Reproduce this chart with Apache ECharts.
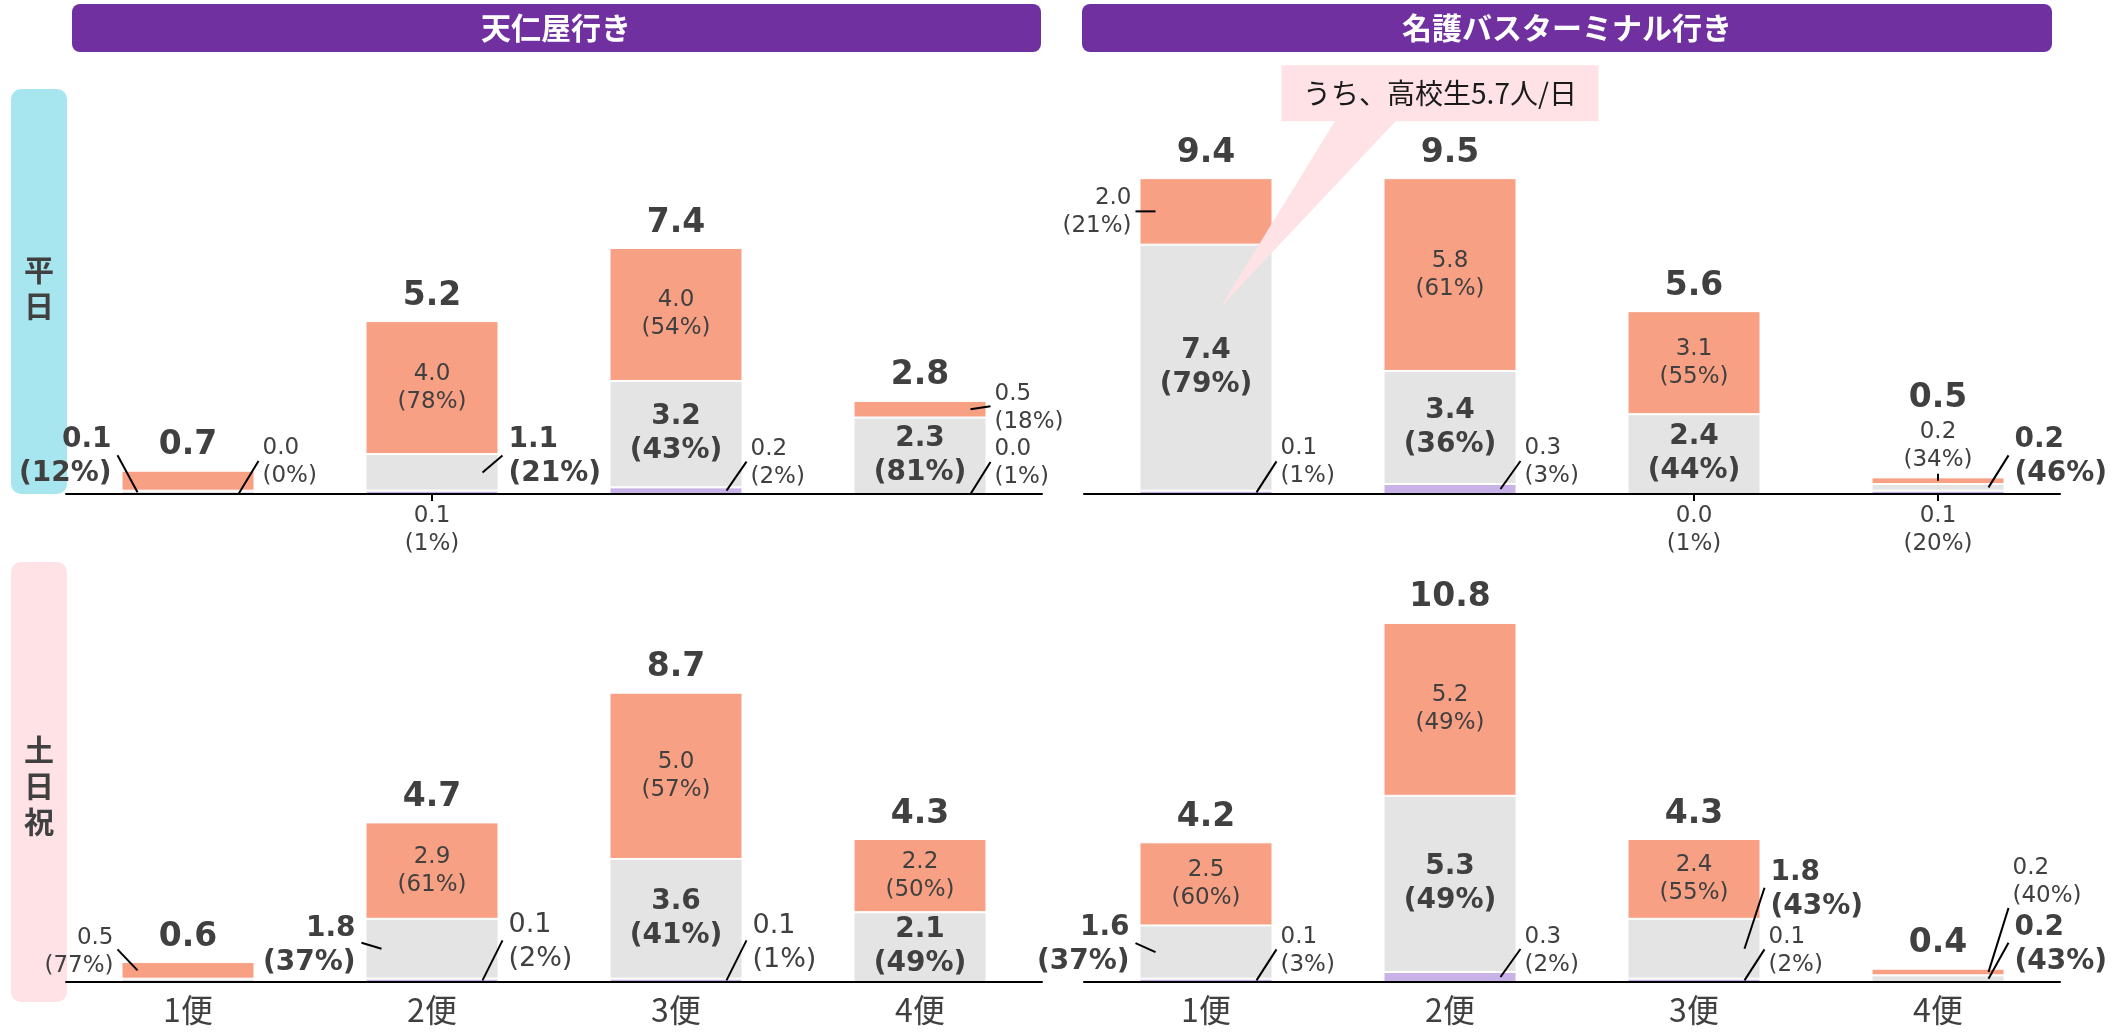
<!DOCTYPE html>
<html>
<head>
<meta charset="utf-8">
<script src="https://cdn.jsdelivr.net/npm/echarts@6/dist/echarts.min.js"></script>
<style>
  html, body { margin: 0; padding: 0; background: #fff; }
  #chart { width: 2125px; height: 1032px; }
</style>
</head>
<body>
<div id="chart"></div>
<script>
const categories = ['1便', '2便', '3便', '4便'];

// 天仁屋行き・平日 (下から 紫 / 灰 / サーモン)
const tenWeekdayPurple = [0.0, 0.1, 0.2, 0.0];
const tenWeekdayGray = [0.1, 1.1, 3.2, 2.3];
const tenWeekdaySalmon = [0.6, 4.0, 4.0, 0.5];
const tenWeekdayTotal = [0.7, 5.2, 7.4, 2.8];
const tenWeekdayPurplePct = [0, 1, 2, 1];
const tenWeekdayGrayPct = [12, 21, 43, 81];
const tenWeekdaySalmonPct = [88, 78, 54, 18];

// 名護バスターミナル行き・平日
const nagoWeekdayPurple = [0.1, 0.3, 0.0, 0.1];
const nagoWeekdayGray = [7.4, 3.4, 2.4, 0.2];
const nagoWeekdaySalmon = [2.0, 5.8, 3.1, 0.2];
const nagoWeekdayTotal = [9.4, 9.5, 5.6, 0.5];
const nagoWeekdayPurplePct = [1, 3, 1, 20];
const nagoWeekdayGrayPct = [79, 36, 44, 46];
const nagoWeekdaySalmonPct = [21, 61, 55, 34];

// 天仁屋行き・土日祝
const tenHolidayPurple = [0.0, 0.1, 0.1, 0.0];
const tenHolidayGray = [0.1, 1.8, 3.6, 2.1];
const tenHolidaySalmon = [0.5, 2.9, 5.0, 2.2];
const tenHolidayTotal = [0.6, 4.7, 8.7, 4.3];
const tenHolidayPurplePct = [0, 2, 1, 0];
const tenHolidayGrayPct = [23, 37, 41, 49];
const tenHolidaySalmonPct = [77, 61, 57, 50];

// 名護バスターミナル行き・土日祝
const nagoHolidayPurple = [0.1, 0.3, 0.1, 0.0];
const nagoHolidayGray = [1.6, 5.3, 1.8, 0.2];
const nagoHolidaySalmon = [2.5, 5.2, 2.4, 0.2];
const nagoHolidayTotal = [4.2, 10.8, 4.3, 0.4];
const nagoHolidayPurplePct = [3, 2, 2, 17];
const nagoHolidayGrayPct = [37, 49, 43, 43];
const nagoHolidaySalmonPct = [60, 49, 55, 40];

const calloutText = 'うち、高校生5.7人/日';

// ラベルの置き方 'in'=棒の中, R/L=引き出し線で右/左, B=軸の下, T=棒の上, null=なし
// ly: 引き出し線の先 (px), ty: 文字の上下補正 (px)
const tenWeekdayLabels = [
  { p: { side: 'R', ly: -33 }, g: { side: 'L', ly: -37 }, s: null },
  { p: { side: 'B' }, g: { side: 'R', ly: -17 }, s: 'in' },
  { p: { side: 'R', ly: -29 }, g: 'in', s: 'in' },
  { p: { side: 'R', ly: -32 }, g: 'in', s: { side: 'R', ly: -3, ty: 2 } }
];
const nagoWeekdayLabels = [
  { p: { side: 'R', ly: -31 }, g: 'in', s: { side: 'L', ly: 0 } },
  { p: { side: 'R', ly: -28 }, g: 'in', s: 'in' },
  { p: { side: 'B' }, g: 'in', s: 'in' },
  { p: { side: 'B' }, g: { side: 'R', ly: -32 }, s: { side: 'T' }, totDy: -79 }
];
const tenHolidayLabels = [
  { p: null, g: null, s: { side: 'L', ly: -21, ty: 3 } },
  { p: { side: 'R', ly: -40, ty: 2, big: true }, g: { side: 'L', ly: -6, ty: 3 }, s: 'in' },
  { p: { side: 'R', ly: -40, ty: 3, big: true }, g: 'in', s: 'in' },
  { p: null, g: 'in', s: 'in' }
];
const nagoHolidayLabels = [
  { p: { side: 'R', ly: -31, ty: 2 }, g: { side: 'L', ly: -9, ty: 2 }, s: 'in' },
  { p: { side: 'R', ly: -28, ty: 2 }, g: 'in', s: 'in' },
  { p: { side: 'R', ly: -31, ty: 2 }, g: { side: 'R', ly: -61, ty: 2 }, s: 'in' },
  { p: null, g: { side: 'R', ly: -36, ty: 2 }, s: { side: 'R', ly: -64, ty: -26 } }
];

const BAR_W = 133;
const NUM_FONT = '"DejaVu Sans", "Noto Sans CJK JP", sans-serif';
const JP_FONT = '"Noto Sans CJK JP", sans-serif';
const TEXT_COLOR = '#404040';
const COLORS = { p: '#C8B2E8', g: '#E4E4E4', s: '#F8A084' };
const TOTAL_STYLE = { fontSize: 33, fontWeight: 'bold', lineHeight: 40 };
const BOLD_STYLE = { fontSize: 28, fontWeight: 'bold', lineHeight: 34 };
const SMALL_STYLE = { fontSize: 23, fontWeight: 'normal', lineHeight: 28 };
const BIG_STYLE = { fontSize: 27, fontWeight: 'normal', lineHeight: 34 };

const grids = [
  { left: 66, top: 95, width: 976, height: 399 },
  { left: 1084, top: 95, width: 976, height: 399 },
  { left: 66, top: 583, width: 976, height: 399 },
  { left: 1084, top: 583, width: 976, height: 399 }
];

const panels = [
  { purple: tenWeekdayPurple, gray: tenWeekdayGray, salmon: tenWeekdaySalmon, total: tenWeekdayTotal,
    pp: tenWeekdayPurplePct, gp: tenWeekdayGrayPct, sp: tenWeekdaySalmonPct, layout: tenWeekdayLabels },
  { purple: nagoWeekdayPurple, gray: nagoWeekdayGray, salmon: nagoWeekdaySalmon, total: nagoWeekdayTotal,
    pp: nagoWeekdayPurplePct, gp: nagoWeekdayGrayPct, sp: nagoWeekdaySalmonPct, layout: nagoWeekdayLabels,
    callout: { tipCat: 0, tipValue: 5.6, tipDx: 14, boxCat: 1, boxValue: 12.05, boxDx: -10 } },
  { purple: tenHolidayPurple, gray: tenHolidayGray, salmon: tenHolidaySalmon, total: tenHolidayTotal,
    pp: tenHolidayPurplePct, gp: tenHolidayGrayPct, sp: tenHolidaySalmonPct, layout: tenHolidayLabels },
  { purple: nagoHolidayPurple, gray: nagoHolidayGray, salmon: nagoHolidaySalmon, total: nagoHolidayTotal,
    pp: nagoHolidayPurplePct, gp: nagoHolidayGrayPct, sp: nagoHolidaySalmonPct, layout: nagoHolidayLabels }
];

function txt(str, x, y, align, vAlign, st, fill) {
  return {
    type: 'text', x: x, y: y,
    style: {
      text: str, fill: fill || TEXT_COLOR, fontFamily: NUM_FONT,
      fontSize: st.fontSize, fontWeight: st.fontWeight, lineHeight: st.lineHeight,
      align: align, verticalAlign: vAlign, textAlign: align, textVerticalAlign: vAlign
    }
  };
}

function lead(x1, y1, x2, y2) {
  return { type: 'line', shape: { x1: x1, y1: y1, x2: x2, y2: y2 }, style: { stroke: '#000', lineWidth: 2 } };
}

function makeRenderer(pn) {
  return function (params, api) {
    const i = api.value(0);
    const lay = pn.layout[i];
    const vals = { p: pn.purple[i], g: pn.gray[i], s: pn.salmon[i] };
    const pcts = { p: pn.pp[i], g: pn.gp[i], s: pn.sp[i] };
    const bases = { p: 0, g: vals.p, s: vals.p + vals.g };
    const origin = api.coord([i, 0]);
    const cx = origin[0];
    const axisY = origin[1];
    const kids = [];

    // 合計
    const topY = api.coord([i, vals.p + vals.g + vals.s])[1];
    kids.push(txt(pn.total[i].toFixed(1), cx, topY + (lay.totDy || -25), 'center', 'middle', TOTAL_STYLE));

    ['p', 'g', 's'].forEach(function (key) {
      const spec = lay[key];
      if (!spec || spec === 'in') return;
      const st = key === 'g' ? BOLD_STYLE : (spec.big ? BIG_STYLE : SMALL_STYLE);
      const str = vals[key].toFixed(1) + '\n(' + pcts[key] + '%)';
      const ay = api.coord([i, bases[key] + vals[key] / 2])[1];
      if (spec.side === 'B') {
        kids.push(lead(cx, axisY, cx, axisY + 7));
        kids.push(txt(str, cx, axisY + 8, 'center', 'top', st));
      } else if (spec.side === 'T') {
        kids.push(lead(cx, ay, cx, ay - 7));
        kids.push(txt(str, cx, ay - 7, 'center', 'bottom', st));
      } else {
        const dir = spec.side === 'R' ? 1 : -1;
        const edge = cx + dir * BAR_W / 2;
        const ey = ay + spec.ly;
        const gap = st === SMALL_STYLE ? 8 : 10;
        kids.push(lead(edge - dir * 16, ay, edge + dir * 4, ey));
        kids.push(txt(str, edge + dir * gap, ey + (spec.ty === undefined ? 1 : spec.ty),
          dir > 0 ? 'left' : 'right', 'middle', st));
      }
    });

    // 吹き出し
    const co = pn.callout;
    if (co && i === co.tipCat) {
      const tip = api.coord([co.tipCat, co.tipValue]);
      const bc = api.coord([co.boxCat, co.boxValue]);
      const bw = 317, bh = 56;
      const bx = bc[0] + co.boxDx - bw / 2;
      const by = bc[1] - bh / 2;
      kids.push({ type: 'polygon', shape: { points: [[bx + 54, by + bh - 1], [bx + 115, by + bh - 1], [tip[0] + co.tipDx, tip[1]]] },
        style: { fill: '#FFE2E5' } });
      kids.push({ type: 'rect', shape: { x: bx, y: by, width: bw, height: bh }, style: { fill: '#FFE2E5' } });
      kids.push({ type: 'text', x: bx + bw / 2, y: by + bh / 2,
        style: { text: calloutText, fill: '#1a1a1a', fontFamily: JP_FONT, fontSize: 28,
          align: 'center', verticalAlign: 'middle', textAlign: 'center', textVerticalAlign: 'middle' } });
    }
    return { type: 'group', children: kids };
  };
}

const series = [];
panels.forEach(function (pn, k) {
  [['p', pn.purple, pn.pp], ['g', pn.gray, pn.gp], ['s', pn.salmon, pn.sp]].forEach(function (seg) {
    const key = seg[0];
    const pcts = seg[2];
    const st = key === 'g' ? BOLD_STYLE : SMALL_STYLE;
    series.push({
      type: 'bar',
      xAxisIndex: k,
      yAxisIndex: k,
      stack: 'st' + k,
      barWidth: BAR_W,
      silent: true,
      data: seg[1].map(function (v, i) {
        return { value: v, label: { show: pn.layout[i][key] === 'in' } };
      }),
      itemStyle: { color: COLORS[key], borderColor: '#fff', borderWidth: 1 },
      label: {
        position: 'inside',
        formatter: function (p) { return p.value.toFixed(1) + '\n(' + pcts[p.dataIndex] + '%)'; },
        color: TEXT_COLOR,
        fontFamily: NUM_FONT,
        fontSize: st.fontSize,
        fontWeight: st.fontWeight,
        lineHeight: st.lineHeight,
        align: 'center'
      }
    });
  });
  series.push({
    type: 'custom',
    xAxisIndex: k,
    yAxisIndex: k,
    z: 10,
    silent: true,
    clip: false,
    data: categories.map(function (c, i) { return [i, pn.total[i]]; }),
    renderItem: makeRenderer(pn)
  });
});

const headerStyle = { fill: '#fff', fontFamily: JP_FONT, fontSize: 30, fontWeight: 'bold',
  align: 'center', verticalAlign: 'middle', textAlign: 'center', textVerticalAlign: 'middle' };
const rowStyle = { fill: '#404040', fontFamily: JP_FONT, fontSize: 30, fontWeight: 'bold', lineHeight: 36,
  align: 'center', verticalAlign: 'middle', textAlign: 'center', textVerticalAlign: 'middle' };

const chart = echarts.init(document.getElementById('chart'));
chart.setOption({
  animation: false,
  backgroundColor: '#fff',
  grid: grids,
  xAxis: grids.map(function (g, k) {
    return {
      type: 'category',
      gridIndex: k,
      data: categories,
      z: 5,
      axisLine: { lineStyle: { color: '#000', width: 2 } },
      axisTick: { show: false },
      axisLabel: { show: k >= 2, fontSize: 32, color: TEXT_COLOR, fontFamily: JP_FONT, margin: 12 },
      splitLine: { show: false }
    };
  }),
  yAxis: grids.map(function (g, k) {
    return { type: 'value', gridIndex: k, min: 0, max: 12, show: false };
  }),
  graphic: {
    elements: [
      { type: 'rect', shape: { x: 72, y: 4, width: 969, height: 48, r: 8 }, style: { fill: '#7030A0' } },
      { type: 'text', x: 556, y: 28, style: Object.assign({ text: '天仁屋行き' }, headerStyle) },
      { type: 'rect', shape: { x: 1082, y: 4, width: 970, height: 48, r: 8 }, style: { fill: '#7030A0' } },
      { type: 'text', x: 1567, y: 28, style: Object.assign({ text: '名護バスターミナル行き' }, headerStyle) },
      { type: 'rect', shape: { x: 11, y: 89, width: 56, height: 405, r: 10 }, style: { fill: '#A8E6EF' } },
      { type: 'text', x: 39, y: 288, style: Object.assign({ text: '平\n日' }, rowStyle) },
      { type: 'rect', shape: { x: 11, y: 562, width: 56, height: 440, r: 10 }, style: { fill: '#FFE2E5' } },
      { type: 'text', x: 39, y: 786, style: Object.assign({ text: '土\n日\n祝' }, rowStyle) }
    ]
  },
  series: series
});
</script>
</body>
</html>
